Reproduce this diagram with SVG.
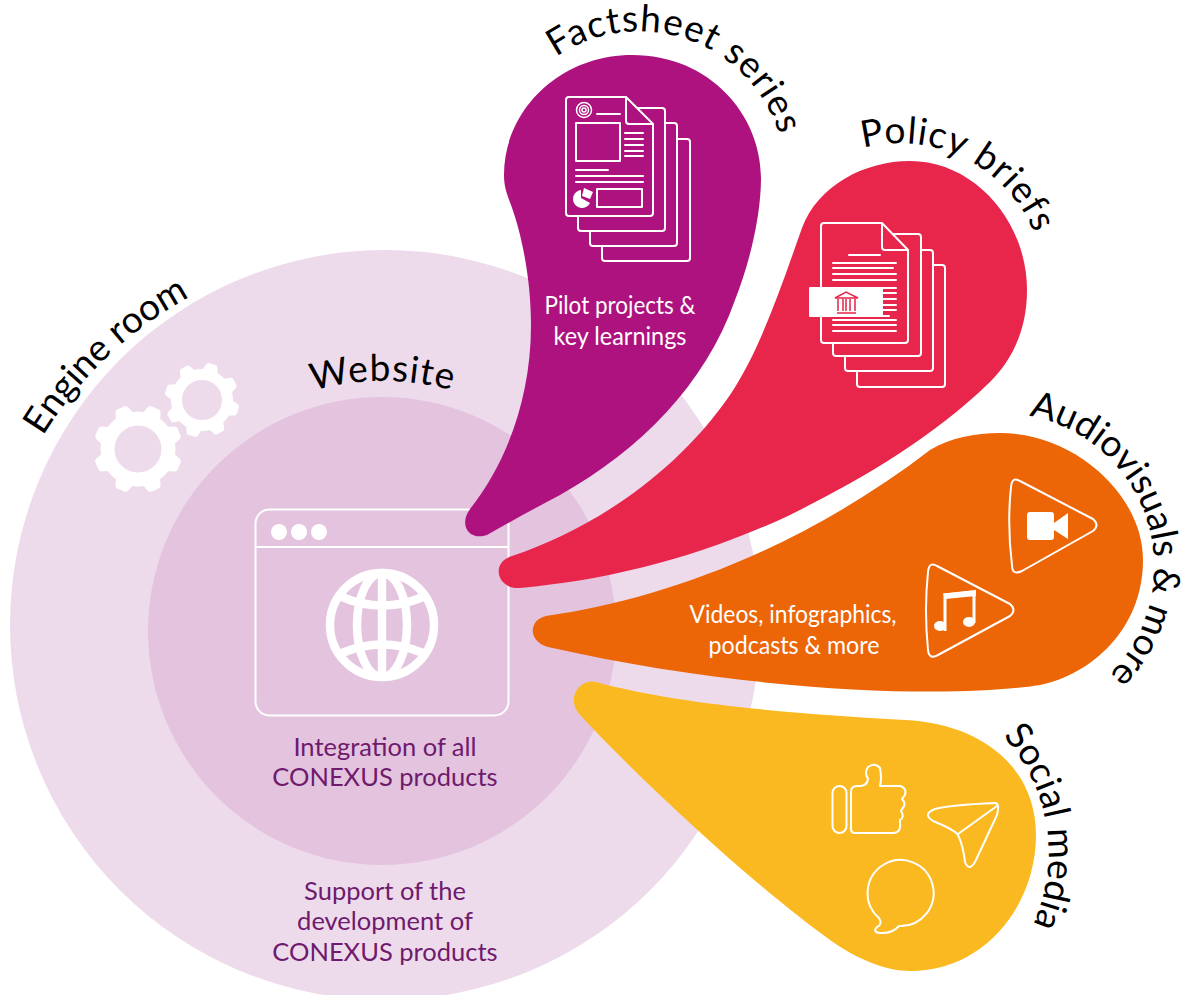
<svg xmlns="http://www.w3.org/2000/svg" xmlns:xlink="http://www.w3.org/1999/xlink" width="1190" height="995" viewBox="0 0 1190 995">
<style>
text{font-family:"Lato","Noto Sans","Liberation Sans",sans-serif}
.t{font-size:37px;fill:#000}
.d{font-size:25.500px;fill:#6f1a6d;text-anchor:middle}
.w{font-size:25px;fill:#fff;text-anchor:middle}
.l{fill:none;stroke:#fff;stroke-width:2;stroke-linejoin:round;stroke-linecap:round}
.p{fill:none;stroke:#fff;stroke-width:2;stroke-linejoin:round}
.pm{fill:#ad127f;stroke:#fff;stroke-width:2}
.pr{fill:#e8254b;stroke:#fff;stroke-width:2}
.f{fill:#fff}
</style>
<defs>
<path id="a1" d="M43,436 A393,393 0 0 1 225,280"/>
<path id="a2" d="M313,391 A255,255 0 0 1 470,396"/>
<path id="a3" d="M556,57 A147,147 0 0 1 770,245"/>
<path id="a4" d="M863,148 A145,145 0 0 1 1040,250"/>
<path id="a5" d="M1029,416 A153,153 0 0 1 1070,703"/>
<path id="a6" d="M1003,736 A173,173 0 0 1 1020,948"/>
<path id="tooth" d="M-10,-33 L-7,-42 Q-6,-44.500 -4,-44.500 H4 Q6,-44.500 7,-42 L10,-33Z"/>
<g id="gear8"><use href="#tooth"/><use href="#tooth" transform="rotate(45)"/><use href="#tooth" transform="rotate(90)"/><use href="#tooth" transform="rotate(135)"/><use href="#tooth" transform="rotate(180)"/><use href="#tooth" transform="rotate(225)"/><use href="#tooth" transform="rotate(270)"/><use href="#tooth" transform="rotate(315)"/></g>
</defs>
<g id="engine-room">
<circle cx="385" cy="625" r="375" fill="#eddbec"/>
<g class="f">
<use href="#gear8" transform="translate(138 449) rotate(22.500)"/>
<use href="#gear8" transform="translate(202 400) rotate(16) scale(.84)"/>
</g>
<g fill="none" stroke="#fff">
<circle cx="138" cy="449" r="30.500" stroke-width="14"/>
<circle cx="202" cy="400" r="25.500" stroke-width="11"/>
</g>
<text class="t"><textPath href="#a1">Engine room</textPath></text>
<text class="d" x="385" y="900">Support of the</text>
<text class="d" x="385" y="930">development of</text>
<text class="d" x="385" y="961">CONEXUS products</text>
</g>
<g id="website">
<circle cx="382" cy="631" r="234" fill="#e3c3de"/>
<rect x="255.500" y="509.500" width="253" height="206" rx="14" class="p"/>
<path d="M256,547H508" class="p"/>
<circle class="f" cx="279" cy="532" r="8"/><circle class="f" cx="299" cy="532" r="8"/><circle class="f" cx="319" cy="532" r="8"/>
<g fill="none" stroke="#fff" stroke-width="8.500">
<circle cx="382" cy="625" r="52"/>
<ellipse cx="382" cy="625" rx="25" ry="52"/>
<path d="M382,573V677M342,597Q382,614 423,597M342,653Q382,636 423,653"/>
</g>
<text class="t" letter-spacing="1"><textPath href="#a2">Website</textPath></text>
<text class="d" x="385" y="756">Integration of all</text>
<text class="d" x="385" y="786">CONEXUS products</text>
</g>
<g id="connectors"></g>
<g id="factsheet-series">
<path fill="#ad127f" d="M632,55C710,55 761,115 761,178C761,215 750,262 735,300C705,385 640,450 560,495C535,508 510,522 487,535C470,541 458,526 470,509C505,465 531,400 531,325C531,280 522,235 511,205C506,192 504,185 504,175C504,110 560,55 632,55Z"/>
<g>
<rect class="pm" x="602" y="139" width="88" height="122" rx="3"/>
<rect class="pm" x="590" y="123" width="87" height="123" rx="3"/>
<rect class="pm" x="578" y="108" width="87" height="123" rx="3"/>
<path class="pm" d="M569,97H626L653,124V213Q653,216 650,216H569Q566,216 566,213V100Q566,97 569,97Z"/>
<path class="p" d="M626,97V121Q626,124 629,124H653"/>
<g fill="none" stroke="#fff" stroke-width="1.500"><circle cx="584" cy="110" r="7.500"/><circle cx="584" cy="110" r="4.500"/><circle cx="584" cy="110" r="2"/></g>
<path class="l" d="M597,114H620M625,133H643M625,139H643M625,145H643M625,151H643M625,156H643M576,170H608M576,176H643M576,182H643"/>
<rect class="p" x="576" y="123" width="44" height="38"/>
<rect class="p" x="597" y="189" width="45" height="18"/>
<path class="f" d="M581,190A9,9 0 1 0 590,203L581,198Z"/><path class="f" d="M584,188L593,192L590,199L582,196Z"/>
</g>
<text class="w" x="620" y="314" textLength="151" lengthAdjust="spacingAndGlyphs">Pilot projects &amp;</text>
<text class="w" x="620" y="345" textLength="133" lengthAdjust="spacingAndGlyphs">key learnings</text>
<text class="t" letter-spacing="1"><textPath href="#a3">Factsheet series</textPath></text>
</g>
<g id="policy-briefs">
<path fill="#e8254b" d="M910,161C975,161 1027,222 1027,290C1027,330 1012,360 990,382C930,440 860,480 790,515C700,557 610,580 520,588C497,590 490,562 512,556C590,530 675,475 730,395C760,350 780,290 802,228C818,185 865,161 910,161Z"/>
<g>
<rect class="pr" x="857" y="265" width="88" height="122" rx="3"/>
<rect class="pr" x="845" y="250" width="88" height="121" rx="3"/>
<rect class="pr" x="833" y="234" width="88" height="122" rx="3"/>
<path class="pr" d="M824,223H882L908,250V340Q908,343 905,343H824Q821,343 821,340V226Q821,223 824,223Z"/>
<path class="p" d="M882,223V247Q882,250 885,250H908"/>
<path class="l" d="M849,255H880M833,263H896M833,268H893M833,274H896M833,280H896M833,331H896M833,325H896M833,320H896"/>
<path class="l" d="M883,288H896M883,293H896M883,299H896M883,305H896M883,310H896M883,316H889"/>
<rect class="f" x="809" y="287" width="74" height="30" rx="1"/>
<g fill="none" stroke="#e8254b" stroke-width="1.500"><path d="M835,298L846,292L858,298H835ZM837,313H856M838,299V311M843,299V311M846,299V311M850,299V311M855,299V311"/></g>
</g>
<text class="t" letter-spacing="1"><textPath href="#a4">Policy briefs</textPath></text>
</g>
<g id="audiovisuals">
<path fill="#ec6608" d="M1000,433C1075,433 1143,495 1143,560C1143,630 1090,675 1040,685C960,698 760,695 548,647C528,642 528,620 546,616C660,600 800,550 930,450C950,438 975,433 1000,433Z"/>
<g>
<path class="p" d="M1020,481L1093,519Q1100,525 1093,531L1022,571Q1012,576 1012,565Q1007,525 1011,487Q1012,476 1020,481Z"/>
<path class="p" d="M937,566L1010,604Q1017,610 1010,616L938,655Q929,660 928,650Q924,610 928,572Q929,561 937,566Z"/>
<rect class="f" x="1027" y="512" width="27" height="28" rx="3"/>
<path class="f" d="M1054,523L1068,513V539L1054,530Z"/>
<path d="M945,631V595L974,592V623" fill="none" stroke="#fff" stroke-width="3"/><path class="f" d="M943,593.500L976,590V596L945,599Z"/>
<ellipse class="f" cx="940" cy="626" rx="6" ry="5"/><ellipse class="f" cx="969" cy="622" rx="6" ry="5"/>
</g>
<text class="w" x="793" y="623" textLength="207" lengthAdjust="spacingAndGlyphs">Videos, infographics,</text>
<text class="w" x="794" y="654" textLength="171" lengthAdjust="spacingAndGlyphs">podcasts &amp; more</text>
<text class="t"><textPath href="#a5">Audiovisuals &amp; more</textPath></text>
</g>
<g id="social-media">
<path fill="#fbb921" d="M596,682C680,705 800,714 905,720C985,724 1036,770 1036,835C1036,905 985,971 910,971C885,971 855,958 830,940C760,890 650,790 580,715C565,698 580,678 596,682Z"/>
<g>
<rect class="p" x="832.500" y="786" width="14" height="47" rx="7"/>
<path class="p" d="M851,792Q851,786 857,786H860Q867,786 868,779Q864,772 868,767Q875,762 880,768Q882,778 880,786H900Q907,788 905,795L902,799Q907,804 902,809L901,811Q905,817 900,820L900,822Q901,830 897,832Q896,833 890,833H855Q851,833 851,829Z"/>
<path class="p" d="M995,803Q950,805 935,809Q922,814 933,821Q955,830 958,835Q963,845 965,862Q969,872 975,862L997,815Q1000,803 995,803ZM958,834L997,806"/>
<path class="p" d="M879,918A33,33 0 1 1 899,926Q892,934 880,933Q872,932 877,927Q883,924 879,918Z"/>
</g>
<text class="t"><textPath href="#a6">Social media</textPath></text>
</g>
</svg>
